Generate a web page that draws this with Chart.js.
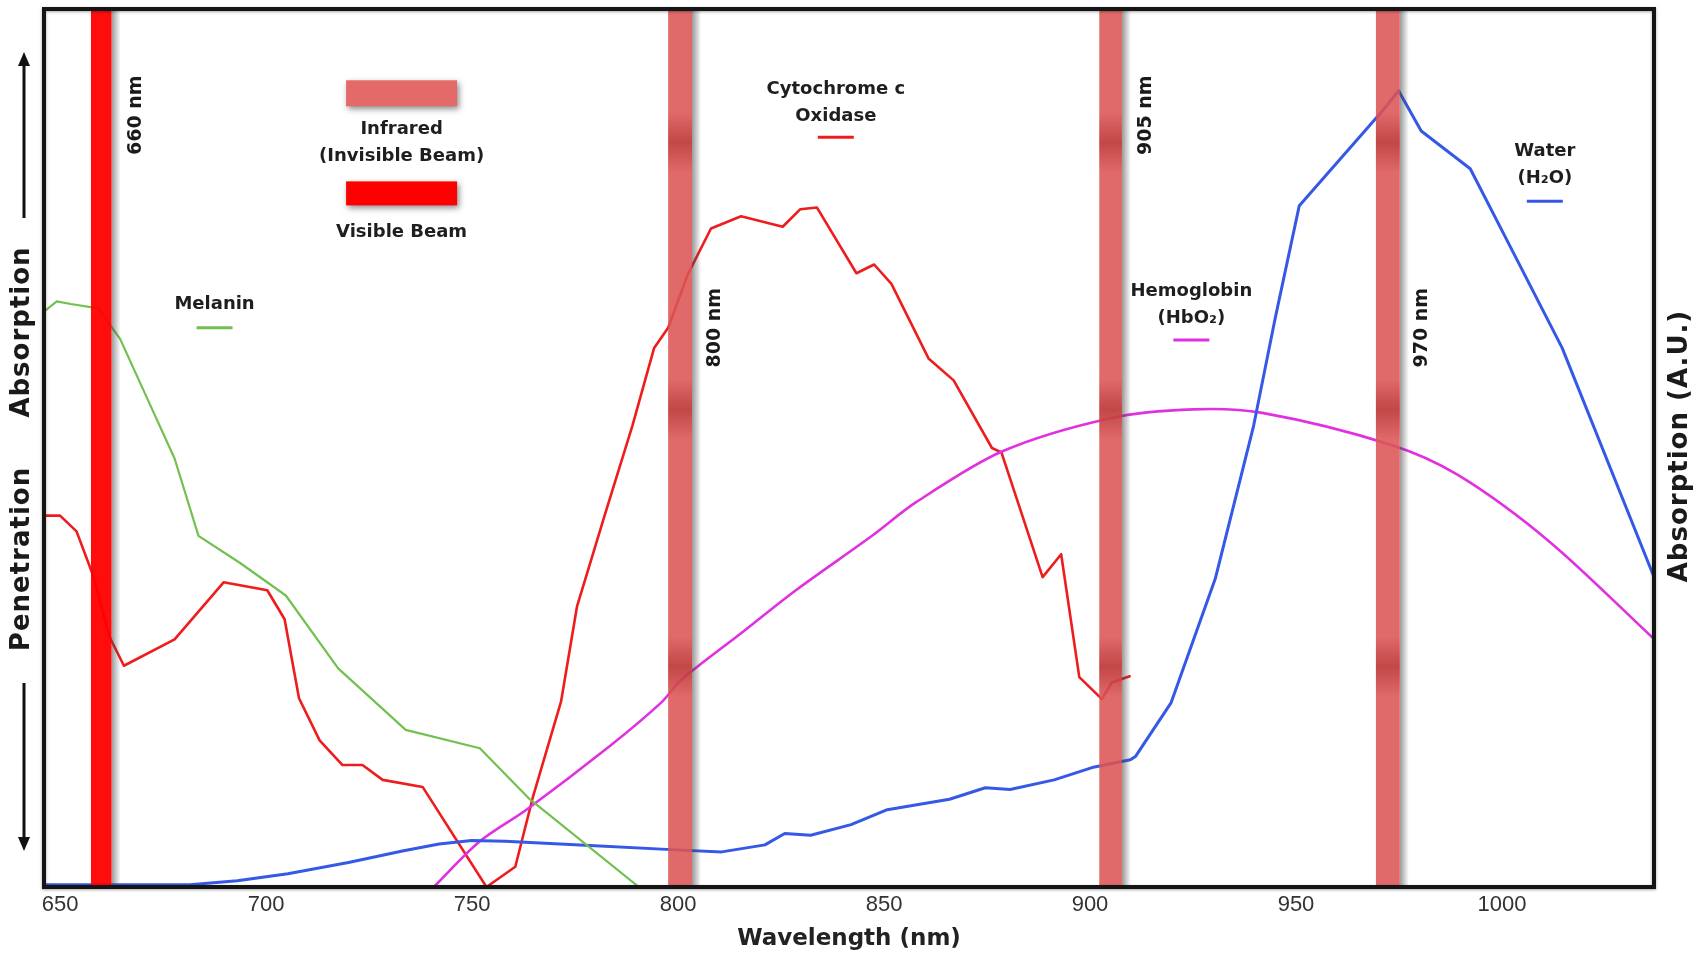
<!DOCTYPE html>
<html>
<head>
<meta charset="utf-8">
<script src="https://cdn.jsdelivr.net/npm/chart.js@4.4.1/dist/chart.umd.min.js"></script>
<style>
  html, body { margin: 0; padding: 0; background: #fff; }
  #wrap { width: 1706px; height: 961px; }
</style>
</head>
<body>
<div id="wrap"><canvas id="chart"></canvas></div>
<script>
// x axis tick labels (nm)
const xTicks = [650, 700, 750, 800, 850, 900, 950, 1000];

// Melanin (green)
const melaninNm = [646, 649.2, 652.6, 659.3, 664.6, 671.2, 677.8, 683.6, 693.7, 704.8, 717.5, 733.9, 751.9, 764, 790.5];
const melaninAbs = [65.5, 66.7, 66.4, 65.9, 62.4, 55.6, 48.8, 40.0, 36.9, 33.2, 24.9, 17.9, 15.8, 10, 0];

// Cytochrome c oxidase (red)
const cytoNm = [646, 650, 654, 658, 662, 665.5, 677.8, 689.7, 700.3, 704.5, 708, 713, 718.5, 723.4, 728.3, 738, 753.5, 760.5, 764.8, 771.6, 775.5, 782.3, 788.9, 794.2, 797.6, 802.4, 808, 815.3, 825.4, 829.7, 833.7, 843.3, 847.6, 851.8, 860.8, 866.9, 876.2, 878.5, 888.5, 893, 897.4, 902.9, 905.3, 909.6];
const cytoAbs = [42.3, 42.3, 40.5, 35.5, 28.5, 25.2, 28.2, 34.7, 33.8, 30.5, 21.5, 16.7, 13.9, 13.9, 12.2, 11.4, 0, 2.3, 10.3, 21.1, 32, 42.5, 52.5, 61.4, 63.7, 69.8, 75, 76.4, 75.2, 77.2, 77.4, 69.9, 70.9, 68.7, 60.2, 57.7, 50, 49.5, 35.3, 37.9, 23.9, 21.4, 23.3, 24];

// Hemoglobin HbO2 (magenta)
const hbNm = [740.7, 751.9, 763.2, 783.3, 795.9, 800.8, 815.3, 828.6, 847.1, 857.7, 878.6, 905, 925.1, 941.8, 972.8, 989.4, 1011.6, 1037];
const hbAbs = [0, 5.2, 8.8, 16.0, 21.0, 23.6, 28.9, 33.8, 40.0, 43.8, 49.6, 53.4, 54.4, 54, 50.4, 46.9, 39.3, 28.2];

// Water H2O (blue)
const waterNm = [646, 681.5, 693, 705.3, 720, 733.1, 742, 749.9, 758, 775, 800.8, 810.6, 821.1, 825.9, 832.2, 842, 850.8, 865.9, 874.6, 880.6, 891.3, 900.5, 909.8, 911.1, 919.7, 930.4, 939.7, 945, 950.8, 971, 974.9, 980.4, 992.3, 1002.6, 1014.6, 1037];
const waterAbs = [0.25, 0.25, 0.7, 1.5, 2.8, 4.1, 4.9, 5.3, 5.2, 4.8, 4.2, 4.0, 4.8, 6.1, 5.9, 7.1, 8.8, 10, 11.3, 11.1, 12.2, 13.6, 14.5, 14.9, 21, 35.1, 52.5, 64.9, 77.6, 88.4, 90.7, 86.1, 81.8, 72.4, 61.4, 35.2];

// laser bands
const bandNm = [660, 800.5, 905, 972.3];
const bandWidthNm = [5, 5.8, 5.5, 5.8];
const bandVisible = [true, false, false, false];
const bandLabels = ["660 nm", "800 nm", "905 nm", "970 nm"];
const bandLabelNm = [668.4, 808.9, 913.5, 980.6];
const bandLabelAbs = [87.9, 63.7, 87.9, 63.7];

const RED = "#ee1c1c";
const GREEN = "#72c050";
const BLUE = "#3558e6";
const MAGENTA = "#e030e0";
const BAND_IR = "#dc5454";

function toPoints(xs, ys) {
  return xs.map((x, i) => ({ x: x, y: ys[i] }));
}

function vtext(ctx, s, x, y) {
  ctx.save();
  ctx.translate(x, y);
  ctx.rotate(-Math.PI / 2);
  ctx.textAlign = "center";
  ctx.textBaseline = "middle";
  ctx.fillText(s, 0, 0);
  ctx.restore();
}

function arrow(ctx, x, y1, y2) {
  // line from y1 to y2, head at y2
  const dir = y2 > y1 ? 1 : -1;
  ctx.save();
  ctx.strokeStyle = "#111";
  ctx.fillStyle = "#111";
  ctx.lineWidth = 3;
  ctx.beginPath();
  ctx.moveTo(x, y1);
  ctx.lineTo(x, y2 - dir * 10);
  ctx.stroke();
  ctx.beginPath();
  ctx.moveTo(x, y2);
  ctx.lineTo(x - 6, y2 - dir * 14);
  ctx.lineTo(x + 6, y2 - dir * 14);
  ctx.closePath();
  ctx.fill();
  ctx.restore();
}

function drawBand(ctx, area, xl, xr, visible) {
  const h = area.bottom - area.top;
  // shadow on the right
  const g = ctx.createLinearGradient(xr, 0, xr + 9, 0);
  g.addColorStop(0, "rgba(70,70,70,0.55)");
  g.addColorStop(1, "rgba(70,70,70,0)");
  ctx.fillStyle = g;
  ctx.fillRect(xr, area.top, 9, h);
  if (visible) {
    ctx.globalAlpha = 0.95;
    ctx.fillStyle = "#ff0000";
    ctx.fillRect(xl, area.top, xr - xl, h);
    ctx.globalAlpha = 1;
    return;
  }
  ctx.globalAlpha = 0.88;
  ctx.fillStyle = BAND_IR;
  ctx.fillRect(xl, area.top, xr - xl, h);
  ctx.globalAlpha = 1;
  // darker patches
  [0.152, 0.456, 0.749].forEach(f => {
    const cy = area.top + f * h;
    const dg = ctx.createLinearGradient(0, cy - 30, 0, cy + 30);
    dg.addColorStop(0, "rgba(150,20,20,0)");
    dg.addColorStop(0.5, "rgba(150,20,20,0.4)");
    dg.addColorStop(1, "rgba(150,20,20,0)");
    ctx.fillStyle = dg;
    ctx.fillRect(xl, cy - 30, xr - xl, 60);
  });
}

function legendBox(ctx, cx, cy, w, hgt, color) {
  ctx.save();
  ctx.shadowColor = "rgba(0,0,0,0.45)";
  ctx.shadowBlur = 6;
  ctx.shadowOffsetX = 2;
  ctx.shadowOffsetY = 3;
  ctx.fillStyle = color;
  ctx.fillRect(cx - w / 2, cy - hgt / 2, w, hgt);
  ctx.restore();
}

const decor = {
  id: "decor",
  afterDatasetsDraw(chart) {
    const ctx = chart.ctx;
    const area = chart.chartArea;
    const xs = chart.scales.x;
    const ys = chart.scales.y;
    ctx.save();

    // bands
    bandNm.forEach((c, i) => {
      const xl = xs.getPixelForValue(c - bandWidthNm[i] / 2);
      const xr = xs.getPixelForValue(c + bandWidthNm[i] / 2);
      drawBand(ctx, area, xl, xr, bandVisible[i]);
    });

    // band labels
    ctx.fillStyle = "#1a1a1a";
    ctx.font = "bold 19px 'DejaVu Sans'";
    bandLabels.forEach((s, i) => {
      vtext(ctx, s, xs.getPixelForValue(bandLabelNm[i]), ys.getPixelForValue(bandLabelAbs[i]));
    });

    // beam legend
    const lx = xs.getPixelForValue(732.9);
    legendBox(ctx, lx, ys.getPixelForValue(90.4), 111, 26, "#e46a6a");
    legendBox(ctx, lx, ys.getPixelForValue(79), 111, 24, "#ff0000");
    ctx.fillStyle = "#1e1e1e";
    ctx.font = "bold 18px 'DejaVu Sans'";
    ctx.textAlign = "center";
    ctx.textBaseline = "middle";
    ctx.fillText("Infrared", lx, ys.getPixelForValue(86.3));
    ctx.fillText("(Invisible Beam)", lx, ys.getPixelForValue(83.2));
    ctx.fillText("Visible Beam", lx, ys.getPixelForValue(74.6));

    // series labels
    const series = [
      { nm: 687.5, lines: ["Melanin"], v: [66.4], dash: 63.7, color: GREEN },
      { nm: 838.3, lines: ["Cytochrome c", "Oxidase"], v: [90.8, 87.8], dash: 85.4, color: RED },
      { nm: 924.6, lines: ["Hemoglobin", "(HbO\u2082)"], v: [67.9, 64.8], dash: 62.3, color: MAGENTA },
      { nm: 1010.4, lines: ["Water", "(H\u2082O)"], v: [83.8, 80.7], dash: 78.1, color: BLUE }
    ];
    series.forEach(s => {
      const px = xs.getPixelForValue(s.nm);
      ctx.fillStyle = "#1e1e1e";
      s.lines.forEach((t, k) => ctx.fillText(t, px, ys.getPixelForValue(s.v[k])));
      ctx.strokeStyle = s.color;
      ctx.lineWidth = 3;
      ctx.beginPath();
      const dy = ys.getPixelForValue(s.dash);
      ctx.moveTo(px - 18, dy);
      ctx.lineTo(px + 18, dy);
      ctx.stroke();
    });

    // frame
    ctx.save();
    ctx.shadowColor = "rgba(0,0,0,0.35)";
    ctx.shadowBlur = 3;
    ctx.shadowOffsetY = 1;
    ctx.strokeStyle = "#151515";
    ctx.lineWidth = 4;
    ctx.strokeRect(area.left, area.top, area.right - area.left, area.bottom - area.top);
    ctx.restore();

    // side labels
    ctx.fillStyle = "#1a1a1a";
    ctx.font = "bold 26px 'DejaVu Sans'";
    ctx.letterSpacing = "1px";
    vtext(ctx, "Absorption", 22, 332);
    vtext(ctx, "Penetration", 22, 559);
    vtext(ctx, "Absorption (A.U.)", 1680, 446);
    ctx.letterSpacing = "0px";
    arrow(ctx, 24, 218, 52);
    arrow(ctx, 24, 683, 851);

    ctx.restore();
  }
};

const ctxEl = document.getElementById("chart");
const chart = new Chart(ctxEl, {
  type: "line",
  data: {
    datasets: [
      { label: "Melanin", data: toPoints(melaninNm, melaninAbs), borderColor: GREEN, borderWidth: 2.2, tension: 0 },
      { label: "Water (H2O)", data: toPoints(waterNm, waterAbs), borderColor: BLUE, borderWidth: 3, tension: 0 },
      { label: "Hemoglobin (HbO2)", data: toPoints(hbNm, hbAbs), borderColor: MAGENTA, borderWidth: 2.6, tension: 0.3 },
      { label: "Cytochrome c Oxidase", data: toPoints(cytoNm, cytoAbs), borderColor: RED, borderWidth: 2.6, tension: 0 }
    ]
  },
  options: {
    responsive: true,
    maintainAspectRatio: false,
    animation: false,
    layout: { padding: { left: 44, right: 52, top: 9, bottom: 8 } },
    elements: { point: { radius: 0 }, line: { borderJoinStyle: "round", borderCapStyle: "round" } },
    plugins: { legend: { display: false }, tooltip: { enabled: false } },
    scales: {
      x: {
        type: "linear",
        min: 646.1,
        max: 1036.9,
        afterBuildTicks: axis => { axis.ticks = xTicks.map(v => ({ value: v })); },
        grid: { display: false, drawTicks: false },
        border: { display: false },
        ticks: {
          font: { family: "Liberation Sans", size: 22 },
          color: "#333",
          padding: 5,
          maxRotation: 0,
          autoSkip: false,
          callback: v => String(v)
        },
        title: {
          display: true,
          text: "Wavelength (nm)",
          color: "#222",
          font: { family: "DejaVu Sans", size: 23, weight: "bold" },
          padding: { top: 2, bottom: 0 }
        }
      },
      y: { display: false, min: 0, max: 100 }
    }
  },
  plugins: [decor]
});
</script>
</body>
</html>
